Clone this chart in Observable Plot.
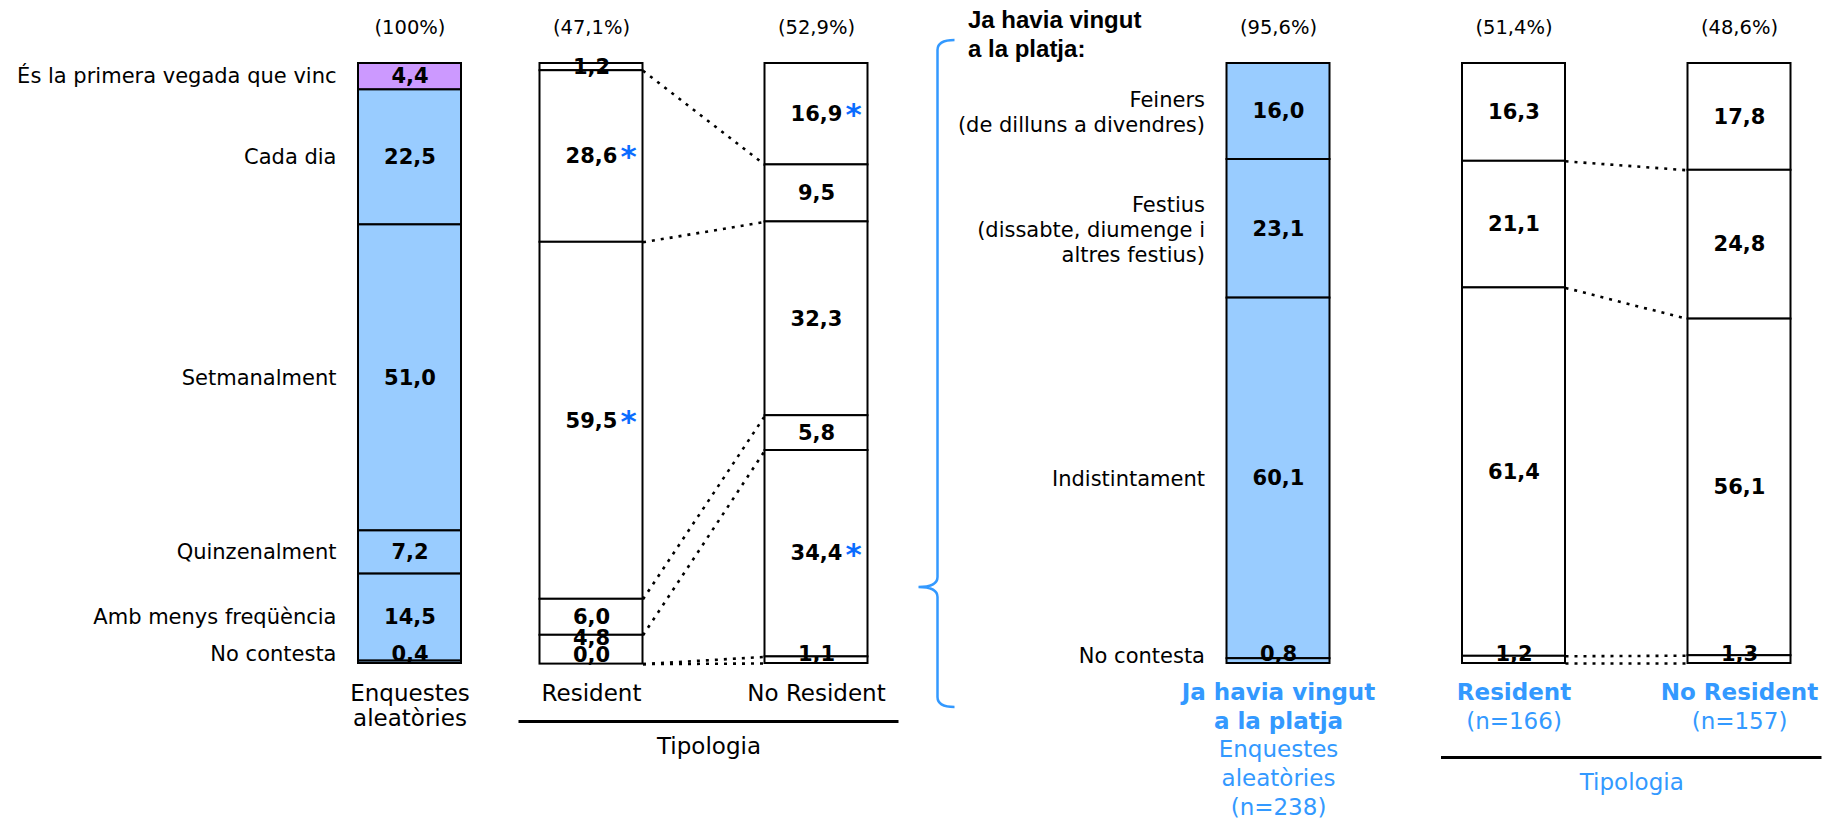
<!DOCTYPE html>
<html>
<head>
<meta charset="utf-8">
<script src="https://cdn.jsdelivr.net/npm/d3@7"></script>
<script src="https://cdn.jsdelivr.net/npm/@observablehq/plot@0.6"></script>
<style>
  html, body { margin: 0; padding: 0; background: #fff; }
  #chart svg { display: block; }
</style>
</head>
<body>
<div id="chart"></div>
<script>
// ---------------- DATA ----------------
const categoriesLeft = ["És la primera vegada que vinc", "Cada dia", "Setmanalment", "Quinzenalment", "Amb menys freqüència", "No contesta"];
const totalValues      = [4.4, 22.5, 51.0, 7.2, 14.5, 0.4];
const residentValues   = [1.2, 28.6, 59.5, 6.0, 4.8, 0.0];
const noResidentValues = [16.9, 9.5, 32.3, 5.8, 34.4, 1.1];
const residentSig      = [false, true, true, false, false, false];
const noResidentSig    = [true, false, false, false, true, false];

const categoriesRight = ["Feiners\n(de dilluns a divendres)", "Festius\n(dissabte, diumenge i\naltres festius)", "Indistintament", "No contesta"];
const returningValues       = [16.0, 23.1, 60.1, 0.8];
const residentRightValues   = [16.3, 21.1, 61.4, 1.2];
const noResidentRightValues = [17.8, 24.8, 56.1, 1.3];

const sharesLeft  = ["(100%)", "(47,1%)", "(52,9%)"];
const sharesRight = ["(95,6%)", "(51,4%)", "(48,6%)"];
const barNamesLeft = ["Enquestes\naleatòries", "Resident", "No Resident"];
const barNamesRightBold = ["Ja havia vingut\na la platja", "Resident", "No Resident"];
const barNamesRightNote = ["Enquestes\naleatòries\n(n=238)", "(n=166)", "(n=157)"];
const groupLabel = "Tipologia";
const headerRight = "Ja havia vingut\na la platja:";

// ---------------- LAYOUT / STYLE ----------------
const W = 1827, H = 819, TOP = 63, BOTTOM = 663;
const barW = 103;
const centers = [409.5, 591, 816, 1278, 1513.5, 1739];
const BLUE_TEXT = "#3399FF", STAR = "#0A6CFF", FILL_BLUE = "#99CCFF", FILL_PURPLE = "#CC99FF";
const FONT = "'DejaVu Sans', Verdana, sans-serif";
const pxPerUnit = (BOTTOM - TOP) / 100;

const bars = [
  {values: totalValues, sig: null, fill: (c) => c === 0 ? FILL_PURPLE : FILL_BLUE},
  {values: residentValues, sig: residentSig, fill: () => "white"},
  {values: noResidentValues, sig: noResidentSig, fill: () => "white"},
  {values: returningValues, sig: null, fill: () => FILL_BLUE},
  {values: residentRightValues, sig: null, fill: () => "white"},
  {values: noResidentRightValues, sig: null, fill: () => "white"}
];

const fmt = v => d3.format(".1f")(v).replace(".", ",");

// build stacked segments
const segments = [];
bars.forEach((b, bi) => {
  let cum = 0;
  const segs = b.values.map((v, ci) => {
    const s = {bar: bi, cat: ci, v, y1: cum, y2: cum + v, sig: b.sig ? b.sig[ci] : false, fill: b.fill(ci)};
    cum += v;
    return s;
  });
  // label positions: centred, pushed up so they stay inside and do not overlap too much
  const total = cum;
  let next = Infinity;
  for (let k = segs.length - 1; k >= 0; --k) {
    let c = (segs[k].y1 + segs[k].y2) / 2;
    c = Math.min(c, total - 9 / pxPerUnit, next - 17 / pxPerUnit);
    segs[k].ly = c;
    next = c;
  }
  segments.push(...segs);
});

// connectors between boundaries of paired bars
const links = [];
[[1, 2], [4, 5]].forEach(([a, b]) => {
  const A = segments.filter(s => s.bar === a), B = segments.filter(s => s.bar === b);
  for (let k = 0; k < A.length; ++k) {
    links.push({x1: centers[a] + barW / 2, y1: A[k].y2, x2: centers[b] - barW / 2, y2: B[k].y2});
  }
});

const leftCatLabels = segments.filter(s => s.bar === 0).map(s => ({...s, text: categoriesLeft[s.cat]}));
const rightCatLabels = segments.filter(s => s.bar === 3).map(s => ({...s, text: categoriesRight[s.cat]}));

const groups = [
  {a: 1, b: 2, color: "black", ruleDy: 58, textDy: 83},
  {a: 4, b: 5, color: BLUE_TEXT, ruleDy: 94, textDy: 119.6}
].map(g => ({...g, x1: centers[g.a] - barW / 2 - 21, x2: centers[g.b] + barW / 2 + 31}));

const bracketX = centers[3] - barW / 2 - 289;

function bracket(index, scales) {
  const x = scales.x(bracketX);
  const yT = scales.y(0) - 23, yB = scales.y(100) + 44, yM = scales.y(100) - 76;
  const r = 10, hook = 17, tip = 19;
  const p = d3.path();
  p.moveTo(x + hook, yT);
  p.quadraticCurveTo(x, yT, x, yT + r);
  p.lineTo(x, yM - r);
  p.quadraticCurveTo(x, yM, x - tip, yM);
  p.moveTo(x - tip, yM);
  p.quadraticCurveTo(x, yM, x, yM + r);
  p.lineTo(x, yB - r);
  p.quadraticCurveTo(x, yB, x + hook, yB);
  const el = document.createElementNS("http://www.w3.org/2000/svg", "path");
  el.setAttribute("d", p.toString());
  el.setAttribute("fill", "none");
  el.setAttribute("stroke", BLUE_TEXT);
  el.setAttribute("stroke-width", 2.5);
  return el;
}

const marks = [
  // bars
  Plot.rect(segments, {
    x1: d => centers[d.bar] - barW / 2, x2: d => centers[d.bar] + barW / 2,
    y1: "y1", y2: "y2", fill: "fill", stroke: "black", strokeWidth: 2
  }),
  // dotted connectors
  Plot.link(links, {x1: "x1", y1: "y1", x2: "x2", y2: "y2", stroke: "black", strokeWidth: 2.6, strokeDasharray: "3,6"}),
  // value labels
  Plot.text(segments, {
    x: d => centers[d.bar], y: "ly", text: d => fmt(d.v),
    fontWeight: "bold", fontSize: 21, fill: "black", lineAnchor: "middle"
  }),
  // significance asterisks
  Plot.text(segments.filter(d => d.sig), {
    x: d => centers[d.bar], y: "ly", text: () => "*", dx: 37, dy: 1,
    fontWeight: "bold", fontSize: 31, fill: STAR, lineAnchor: "middle"
  }),
  // category labels left
  Plot.text(leftCatLabels, {
    x: () => centers[0] - barW / 2 - 22, y: "ly", text: "text",
    textAnchor: "end", fontSize: 21, fill: "black", lineAnchor: "middle"
  }),
  // category labels right
  Plot.text(rightCatLabels, {
    x: () => centers[3] - barW / 2 - 22, y: "ly", text: "text",
    textAnchor: "end", fontSize: 21, fill: "black", lineAnchor: "middle", lineHeight: 1.2
  }),
  // share labels above bars
  Plot.text(sharesLeft.concat(sharesRight), {
    x: (d, i) => centers[i], frameAnchor: "top", dy: -35.5, text: d => d,
    fontSize: 19.5, fill: "black", lineAnchor: "middle"
  }),
  // bar names left (black)
  Plot.text(barNamesLeft, {
    x: (d, i) => centers[i], frameAnchor: "bottom", dy: 19.3, text: d => d,
    fontSize: 23, fill: "black", lineAnchor: "top", lineHeight: 25 / 23
  }),
  // bar names right (blue bold)
  Plot.text(barNamesRightBold, {
    x: (d, i) => centers[i + 3], frameAnchor: "bottom", dy: 16.1, text: d => d,
    fontSize: 23, fontWeight: "bold", fill: BLUE_TEXT, lineAnchor: "top", lineHeight: 28.7 / 23
  }),
  // bar notes right (blue regular), placed under the bold lines
  ...barNamesRightNote.map((t, i) => {
    const boldLines = barNamesRightBold[i].split("\n").length;
    return Plot.text([t], {
      x: () => centers[i + 3], frameAnchor: "bottom", dy: 16.1 + boldLines * 28.7, text: d => d,
      fontSize: 23, fill: BLUE_TEXT, lineAnchor: "top", lineHeight: 28.7 / 23
    });
  }),
  // group rules and labels
  ...groups.map(g => Plot.ruleY([g], {y: () => 100, x1: "x1", x2: "x2", dy: g.ruleDy, stroke: "black", strokeWidth: 3})),
  ...groups.map(g => Plot.text([g], {
    x: d => (d.x1 + d.x2) / 2, frameAnchor: "bottom", dy: g.textDy, text: () => groupLabel,
    fontSize: 23, fill: g.color, lineAnchor: "middle"
  })),
  // header of right block
  Plot.text([headerRight], {
    x: () => bracketX + 30, frameAnchor: "top", dy: -55.9, text: d => d,
    textAnchor: "start", lineAnchor: "top", lineHeight: 29 / 24,
    fontFamily: "'Liberation Sans', Arial, sans-serif", fontWeight: "bold", fontSize: 24, fill: "black"
  }),
  // bracket
  bracket
];

const chart = Plot.plot({
  width: W, height: H,
  marginLeft: 0, marginRight: 0, marginTop: TOP, marginBottom: H - BOTTOM,
  x: {domain: [0, W], axis: null},
  y: {domain: [0, 100], reverse: true, axis: null},
  color: {type: "identity"},
  style: {fontFamily: FONT, background: "white", overflow: "visible"},
  marks
});
document.getElementById("chart").appendChild(chart);
</script>
</body>
</html>
